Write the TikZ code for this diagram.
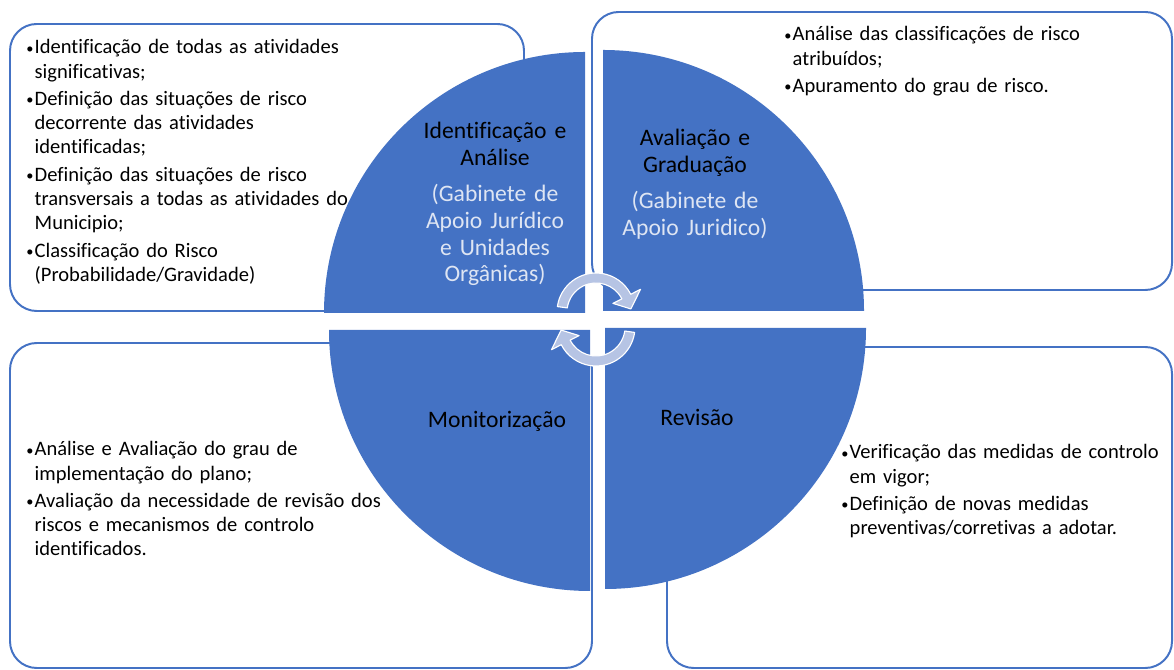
\documentclass[tikz,border=0pt]{standalone}
\usepackage{fontspec}
\setmainfont{Carlito}[Ligatures=NoCommon]
\usepackage{tikz}
\definecolor{quadblue}{HTML}{4472C4}
\definecolor{paletext}{RGB}{222,229,243}
\definecolor{cyclefill}{RGB}{182,196,228}
\newlength{\bulw}
\setlength{\bulw}{6pt}
\newcommand{\li}[1]{\hangindent=\bulw\hangafter=1\noindent\makebox[\bulw][l]{\raisebox{0.6pt}{\scalebox{0.7}{\textbullet}}}#1\par\vspace{2.6pt}}
\newcommand{\turnarrow}{(172:39) arc[start angle=172,end angle=27,radius=39] -- (27:50) -- (5:35) -- (27:19) -- (27:29) arc[start angle=27,end angle=172,radius=29] -- cycle}
\tikzset{frame box/.style={draw=quadblue,fill=white,line width=1.4pt,rounded corners=19pt}}
\tikzset{quadrant/.style={fill=quadblue}}
\tikzset{cycle arrow/.style={fill=cyclefill,draw=white,line width=0.8pt,line join=round}}
\tikzset{bullets/.style={anchor=base west,inner sep=0pt,text width=#1,align=left,font=\fontsize{14.6}{17.1}\selectfont}}
\tikzset{phase/.style={anchor=base,inner sep=0pt,text width=5cm,align=center,font=\fontsize{16.8}{18.9}\selectfont}}
\tikzset{owner/.style={phase,text=paletext}}

\begin{document}
\begin{tikzpicture}[x=0.025cm,y=0.025cm]
    \useasboundingbox (0,0) rectangle (1174,669);

    \draw[frame box] (10,358) rectangle (524,645);
    \draw[frame box] (592,379) rectangle (1172,657);
    \draw[frame box] (10,1) rectangle (592,326);
    \draw[frame box] (667,1) rectangle (1172,322);

    \fill[quadrant] (585,356) -- (324,356) arc[start angle=180,end angle=90,radius=261] -- cycle;
    \fill[quadrant] (603,358) -- (603,619) arc[start angle=90,end angle=0,radius=261] -- cycle;
    \fill[quadrant] (590,339) -- (329,339) arc[start angle=180,end angle=270,radius=261] -- cycle;
    \fill[quadrant] (605,341) -- (605,80) arc[start angle=270,end angle=360,radius=261] -- cycle;

    \filldraw[cycle arrow,shift={(596,357)}] \turnarrow;
    \filldraw[cycle arrow,shift={(596,342)},rotate=180] \turnarrow;

    \node[phase] (T1) at (495,530) {Identificação e\\Análise};
    \node[owner] (O1) at (495,467) {(Gabinete de\\Apoio Jurídico\\e Unidades\\Orgânicas)};
    \node[phase] (T2) at (695,523) {Avaliação e\\Graduação};
    \node[owner] (O2) at (695,460) {(Gabinete de\\Apoio Juridico)};
    \node[phase] (T3) at (497,241) {Monitorização};
    \node[phase] (T4) at (697,243) {Revisão};

    \node[bullets=260pt] (L1) at (26,615) {%
        \li{Identificação de todas as atividades\newline significativas;}
        \li{Definição das situações de risco\newline decorrente das atividades\newline identificadas;}
        \li{Definição das situações de risco\newline transversais a todas as atividades do\newline Municipio;}
        \li{Classificação do Risco\newline (Probabilidade/Gravidade)}};
    \node[bullets=250pt] (L2) at (784,628) {%
        \li{Análise das classificações de risco\newline atribuídos;}
        \li{Apuramento do grau de risco.}};
    \node[bullets=270pt] (L3) at (26,213) {%
        \li{Análise e Avaliação do grau de\newline implementação do plano;}
        \li{Avaliação da necessidade de revisão dos\newline riscos e mecanismos de controlo\newline identificados.}};
    \node[bullets=250pt] (L4) at (841,210) {%
        \li{Verificação das medidas de controlo\newline em vigor;}
        \li{Definição de novas medidas\newline preventivas/corretivas a adotar.}};
\end{tikzpicture}
\end{document}
